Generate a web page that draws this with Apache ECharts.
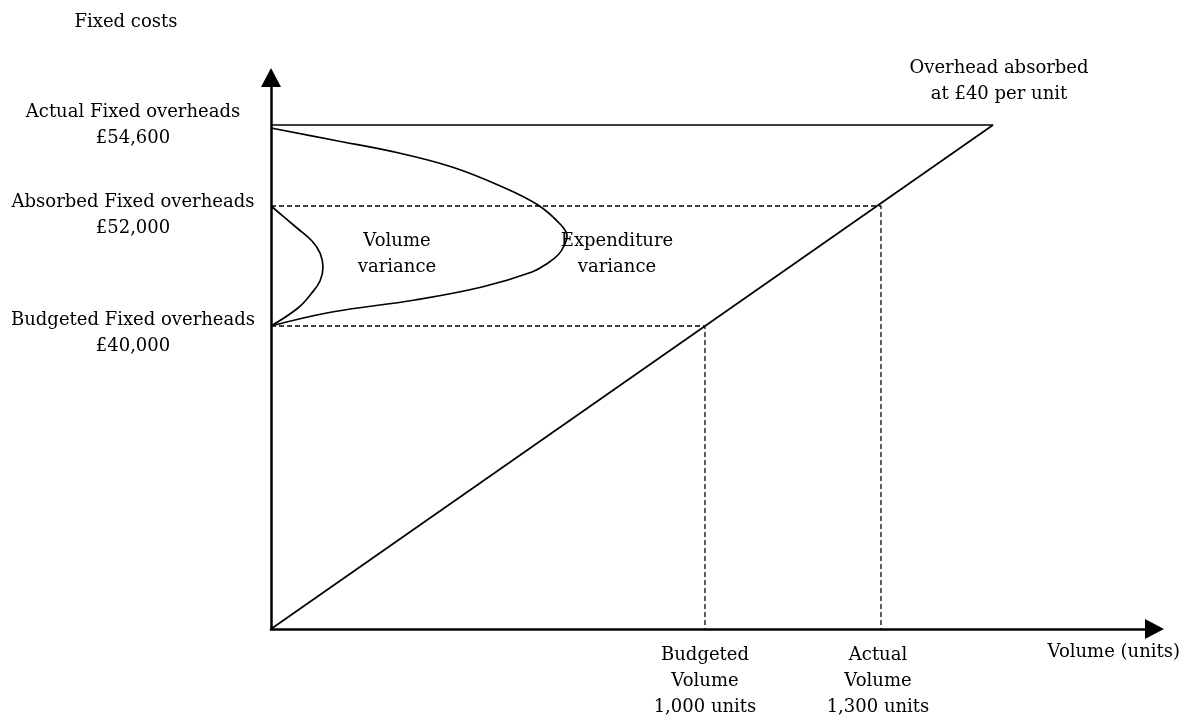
<!DOCTYPE html>
<html>
<head>
<meta charset="utf-8">
<script src="https://cdn.jsdelivr.net/npm/echarts@6/dist/echarts.min.js"></script>
<style>
  html, body { margin: 0; padding: 0; background: #fff; }
  #chart { width: 1186px; height: 720px; }
</style>
</head>
<body>
<div id="chart"></div>
<script>
// Schematic diagram units (the source diagram is not drawn to scale)
const xMax = 874;
const yMax = 542;

// Volume positions on the schematic x axis
const budgetedVolumeX = 434;
const actualVolumeX = 610;
const absorptionLineEndX = 722;

// Cost levels on the schematic y axis
const budgetedLevel = 303;
const absorbedLevel = 423;
const actualLevel = 504;

// Text labels
const yAxisTitle = 'Fixed costs';
const xAxisTitle = 'Volume (units)';
const levelLabels = [
  'Budgeted Fixed overheads\n£40,000',
  'Absorbed Fixed overheads\n£52,000',
  'Actual Fixed overheads\n£54,600'
];
const volumeLabels = [
  'Budgeted\nVolume\n1,000 units',
  'Actual\nVolume\n1,300 units'
];
const absorptionLabel = 'Overhead absorbed\nat £40 per unit';
const volumeVarianceLabel = 'Volume\nvariance';
const expenditureVarianceLabel = 'Expenditure\nvariance';

// Bracket curves (schematic units)
const volumeVarianceCurve = [[0,423],[26,401],[41,388],[49,376],[52,362],[49,348],[40,335],[27,321],[0,303]];
const expenditureVarianceCurve = [[0,501],[62,489],[128,476],[181,462],[227,444],[267,424],[290,404],[296,393],[293,383],[287,374],[277,366],[261,357],[211,342],[144,329],[61,317],[0,303]];

const FONT = 'DejaVu Serif';
const FS = 18;
const TXT = '#000';

const chart = echarts.init(document.getElementById('chart'));

const solid = { color: '#000', width: 1.7, type: 'solid' };
const dashed = { color: '#000', width: 1.3, type: [5, 3] };

function lineSeries(data, style, smooth) {
  const s = {
    type: 'line', data: data, showSymbol: false, symbol: 'none',
    lineStyle: style, silent: true, animation: false, z: 3
  };
  if (smooth) s.smooth = smooth;
  return s;
}

function lbl(text, offset) {
  return { show: true, position: [0, 0], formatter: text, offset: offset,
    fontFamily: FONT, fontSize: FS, color: TXT, lineHeight: 26,
    align: 'center', verticalAlign: 'middle', opacity: 1,
    textBorderWidth: 0 };
}

const annotationData = [
  { value: [0, budgetedLevel], label: lbl(levelLabels[0], [-138, 7]) },
  { value: [0, absorbedLevel], label: lbl(levelLabels[1], [-138, 9]) },
  { value: [0, actualLevel], label: lbl(levelLabels[2], [-138, 0]) },
  { value: [budgetedVolumeX, 0], label: lbl(volumeLabels[0], [0, 52]) },
  { value: [actualVolumeX, 0], label: lbl(volumeLabels[1], [-3, 52]) },
  { value: [absorptionLineEndX, actualLevel], label: lbl(absorptionLabel, [6, -44]) },
  { value: volumeVarianceCurve[4], label: lbl(volumeVarianceLabel, [74, -13]) },
  { value: expenditureVarianceCurve[7], label: lbl(expenditureVarianceLabel, [50, 18]) }
];

chart.setOption({
  backgroundColor: '#fff',
  animation: false,
  grid: { left: 271, right: 41, top: 87, bottom: 91, containLabel: false },
  xAxis: {
    type: 'value', min: 0, max: xMax,
    name: xAxisTitle, nameLocation: 'end', nameGap: 35,
    nameTextStyle: { fontFamily: FONT, fontSize: FS, color: TXT, align: 'right', verticalAlign: 'top', padding: [14, 0, 0, 0] },
    axisLine: { show: true, onZero: false, lineStyle: { color: '#000', width: 2.5 },
      symbol: ['none', 'triangle'], symbolSize: [20, 19], symbolOffset: [0, 9.5] },
    axisTick: { show: false }, axisLabel: { show: false }, splitLine: { show: false }
  },
  yAxis: {
    type: 'value', min: 0, max: yMax,
    name: yAxisTitle, nameLocation: 'end', nameGap: 65,
    nameTextStyle: { fontFamily: FONT, fontSize: FS, color: TXT, align: 'center', verticalAlign: 'middle', padding: [0, 290, 0, 0] },
    axisLine: { show: true, onZero: false, lineStyle: { color: '#000', width: 2.5 },
      symbol: ['none', 'triangle'], symbolSize: [20, 19], symbolOffset: [0, 9.5] },
    axisTick: { show: false }, axisLabel: { show: false }, splitLine: { show: false }
  },
  series: [
    lineSeries([[0, actualLevel], [absorptionLineEndX, actualLevel]], solid),
    lineSeries([[0, 0], [absorptionLineEndX, actualLevel]], solid),
    lineSeries([[0, absorbedLevel], [actualVolumeX, absorbedLevel], [actualVolumeX, 0]], dashed),
    lineSeries([[0, budgetedLevel], [budgetedVolumeX, budgetedLevel], [budgetedVolumeX, 0]], dashed),
    lineSeries(volumeVarianceCurve, solid, 0.4),
    lineSeries(expenditureVarianceCurve, solid, 0.4),
    {
      type: 'scatter', symbolSize: 0, silent: true, animation: false, z: 5,
      itemStyle: { color: '#000', opacity: 1 },
      label: { show: true, position: [0, 0], color: TXT, textBorderWidth: 0 },
      data: annotationData
    }
  ]
});
</script>
</body>
</html>
